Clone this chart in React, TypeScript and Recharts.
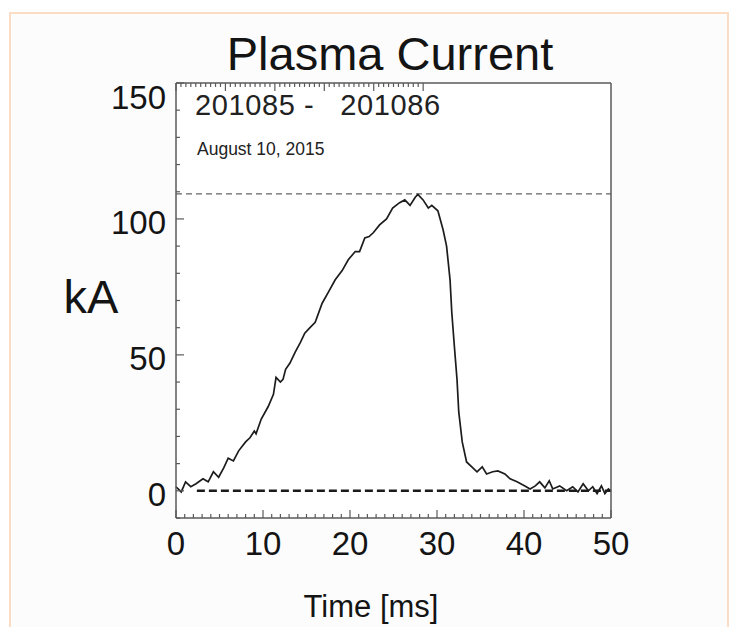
import { LineChart, Line, XAxis, YAxis, CartesianGrid, ReferenceLine } from "recharts";

// Plasma current trace, shots 201085 - 201086
const timeMs = [
  0, 0.6, 1.1, 1.7, 2.3, 3.1, 3.7, 4.3, 4.9, 5.5, 6.0, 6.6, 7.2, 8.0, 8.5, 9.0, 9.2, 9.8,
  10.6, 11.2, 11.5, 12.0, 12.3, 12.6, 13.1, 13.7, 14.3, 14.8, 15.4, 16.0, 16.8, 17.5, 18.3,
  19.1, 19.8, 20.6, 21.1, 21.7, 22.2, 22.7, 23.4, 24.2, 24.9, 25.7, 26.3, 26.9, 27.5, 27.8,
  28.4, 29.0, 29.4, 30.1, 30.7, 31.1, 31.5, 31.7, 32.0, 32.3, 32.5, 32.9, 33.4, 34.0, 34.6,
  35.2, 35.7, 36.4, 37.0, 37.8, 38.4, 39.2, 40.1, 40.7, 41.3, 41.8, 42.4, 42.9, 43.3, 44.1,
  44.9, 45.6, 46.2, 46.8, 47.4, 47.9, 48.4, 48.9, 49.3, 49.7, 50,
];
const currentKA = [
  1.5, -0.4, 3.3, 1.5, 2.6, 4.4, 3.3, 7, 5, 8.5, 12, 11, 14.7, 18, 19.5, 22, 21, 26.4,
  31, 35.5, 41.7, 40, 41, 44.7, 47, 51, 54.6, 58, 60, 62, 69, 73, 77.6,
  81, 85, 88, 88, 93, 93.5, 95, 97.8, 100, 104, 106, 107, 105, 108, 109,
  107, 104, 105, 103, 96, 90, 77.6, 65.6, 53, 41, 29, 18, 10.6, 8.8, 7,
  8.8, 6.2, 7, 7.3, 6.2, 4.4, 3.3, 1.8, 0.7, 1.8, 3.3, 1.1, 3.7, 0.7, 1.8,
  0, 1.5, -0.4, 2.6, 0, 1.5, -1, 1.8, -1, 0.7, 0,
];

const peakKA = 109.2;
const zeroLineStart = 2.4;

const xMajor = [0, 10, 20, 30, 40, 50];
const yMajor = [0, 50, 100, 150];
const xTicks = Array.from({ length: 51 }, (_, i) => i);
const yTicks = Array.from({ length: 17 }, (_, i) => -10 + i * 10);

const data = timeMs.map((t, i) => ({ t, ka: currentKA[i] }));

const FONT = '"Liberation Sans", Arial, Helvetica, sans-serif';
const AXIS = "#5a5a5a";
const INK = "#141414";

function BottomTick(props: any) {
  const { x, y, payload } = props;
  const major = xMajor.includes(payload.value);
  return (
    <g>
      <line x1={x} x2={x} y1={y} y2={y - (major ? 8 : 4)} stroke={AXIS} strokeWidth={1.2} />
      {major && (
        <text x={x} y={y + 37} textAnchor="middle" fontSize={33} fontFamily={FONT} fill={INK}>
          {payload.value}
        </text>
      )}
    </g>
  );
}

function TopTick(props: any) {
  const { x, y, payload } = props;
  const major = xMajor.includes(payload.value);
  return <line x1={x} x2={x} y1={y} y2={y + (major ? 8 : 4)} stroke={AXIS} strokeWidth={1.2} />;
}

function LeftTick(props: any) {
  const { x, y, payload } = props;
  const major = yMajor.includes(payload.value);
  const top = payload.value === 150;
  return (
    <g>
      <line x1={x} x2={x + (major ? 8 : 4)} y1={y} y2={y} stroke={AXIS} strokeWidth={1.2} />
      {major && (
        <text x={x - 10} y={y + (top ? 26 : 15)} textAnchor="end" fontSize={33} fontFamily={FONT} fill={INK}>
          {payload.value}
        </text>
      )}
    </g>
  );
}

function RightTick(props: any) {
  const { x, y, payload } = props;
  const major = yMajor.includes(payload.value);
  return <line x1={x} x2={x - (major ? 8 : 4)} y1={y} y2={y} stroke={AXIS} strokeWidth={1.2} />;
}

export default function App() {
  return (
    <div style={{ position: "absolute", left: 0, top: 0, width: 735, height: 627, background: "#fff", overflow: "hidden" }}>
      <div
        style={{
          position: "absolute",
          left: 9,
          top: 12,
          width: 716,
          height: 640,
          border: "2px solid #fbdcc4",
          background: "#fcfcfc",
        }}
      />
      <div style={{ position: "absolute", left: 0, top: 0 }}>
        <LineChart width={735} height={627} data={data} margin={{ top: 73, right: 114, bottom: 79, left: 116 }}>
          <CartesianGrid xAxisId="bottom" yAxisId="left" horizontal={false} vertical={false} fill="#fff" />
          <XAxis
            xAxisId="bottom"
            dataKey="t"
            type="number"
            domain={[0, 50]}
            ticks={xTicks}
            interval={0}
            height={30}
            tickSize={0}
            tickMargin={0}
            tickLine={false}
            axisLine={{ stroke: AXIS, strokeWidth: 1.5 }}
            tick={(p: any) => <BottomTick {...p} />}
          />
          <XAxis
            xAxisId="top"
            orientation="top"
            type="number"
            domain={[0, 50]}
            ticks={xTicks}
            interval={0}
            height={10}
            tickSize={0}
            tickMargin={0}
            tickLine={false}
            axisLine={{ stroke: AXIS, strokeWidth: 1.5 }}
            tick={(p: any) => <TopTick {...p} />}
          />
          <YAxis
            yAxisId="left"
            type="number"
            domain={[-10, 150]}
            ticks={yTicks}
            interval={0}
            width={60}
            tickSize={0}
            tickMargin={0}
            tickLine={false}
            axisLine={{ stroke: AXIS, strokeWidth: 1.5 }}
            tick={(p: any) => <LeftTick {...p} />}
          />
          <YAxis
            yAxisId="right"
            orientation="right"
            type="number"
            domain={[-10, 150]}
            ticks={yTicks}
            interval={0}
            width={10}
            tickSize={0}
            tickMargin={0}
            tickLine={false}
            axisLine={{ stroke: AXIS, strokeWidth: 1.5 }}
            tick={(p: any) => <RightTick {...p} />}
          />
          <ReferenceLine
            xAxisId="bottom"
            yAxisId="left"
            y={peakKA}
            stroke="#666"
            strokeWidth={1.2}
            strokeDasharray="6 4"
          />
          <ReferenceLine
            xAxisId="bottom"
            yAxisId="left"
            segment={[
              { x: zeroLineStart, y: 0 },
              { x: 50, y: 0 },
            ]}
            stroke="#1a1a1a"
            strokeWidth={2.5}
            strokeDasharray="8 4"
          />
          <Line
            xAxisId="bottom"
            yAxisId="left"
            type="linear"
            dataKey="ka"
            stroke="#1c1c1c"
            strokeWidth={1.7}
            dot={false}
            isAnimationActive={false}
          />
        </LineChart>
      </div>
      <svg width={735} height={627} style={{ position: "absolute", left: 0, top: 0, pointerEvents: "none" }}>
        <text x={390} y={70} textAnchor="middle" fontSize={47} fontFamily={FONT} fill={INK}>
          Plasma Current
        </text>
        <text x={195} y={115} fontSize={29} letterSpacing={0.6} fontFamily={FONT} fill="#222" style={{ whiteSpace: "pre" }}>
          {"201085 -   201086"}
        </text>
        <text x={197} y={155} fontSize={17.5} fontFamily={FONT} fill="#222">
          August 10, 2015
        </text>
        <text x={91} y={313} textAnchor="middle" fontSize={47} fontFamily={FONT} fill={INK}>
          kA
        </text>
        <text x={371} y={617} textAnchor="middle" fontSize={31} fontFamily={FONT} fill={INK}>
          Time [ms]
        </text>
      </svg>
    </div>
  );
}
